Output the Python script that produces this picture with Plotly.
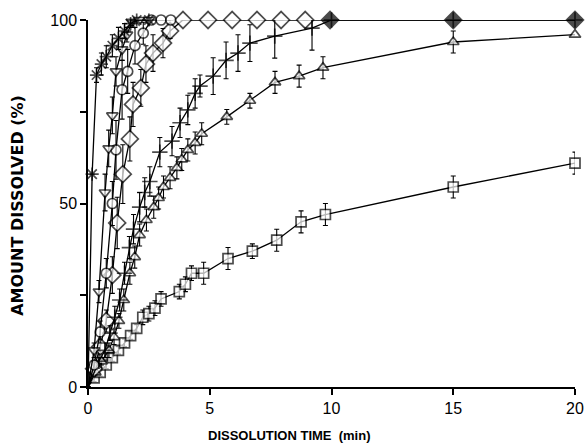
import plotly.graph_objects as go

# ---- data (time in min, amount dissolved in %) ----
star_t = [0, 0.17, 0.35, 0.55, 0.75, 1.0, 1.25, 1.5, 1.75, 2.0, 2.5]
star_y = [0, 58, 85, 88, 90, 93, 95, 97, 99, 100, 100]
star_e = [0, 0, 2, 3, 3, 3, 3, 2, 1, 0, 0]

tdn_t = [0, 0.25, 0.45, 0.7, 0.85, 1.0, 1.15, 1.4, 1.6, 1.8, 2.1, 2.5]
tdn_y = [0, 10, 26, 53, 65, 74, 86, 92, 96, 99.5, 100, 100]
tdn_e = [0, 2, 3, 5, 5, 5, 4, 3, 2, 1, 0, 0]

circ_t = [0, 0.25, 0.5, 0.75, 1.0, 1.15, 1.4, 1.63, 1.93, 2.27, 2.6, 3.0, 3.4]
circ_y = [0, 6, 15, 31, 50, 64.6, 81, 86, 93, 96.4, 100, 100, 100]
circ_e = [0, 1, 3, 4, 6, 8, 8, 6, 5, 3, 0, 0, 0]

diam_t = [0, 0.25, 0.5, 0.75, 1.0, 1.2, 1.43, 1.72, 1.85, 2.17, 2.38, 2.67, 3.08, 3.37,
          3.9, 4.93, 5.92, 6.94, 7.93, 8.92, 9.94, 15, 20]
diam_y = [0, 5, 11, 18, 30.5, 44.7, 58, 67.6, 77, 81.5, 88, 91, 93.7, 97,
          100, 100, 100, 100, 100, 100, 100, 100, 100]
diam_e = [0, 1, 2, 3, 5, 7, 8, 6, 6, 5, 5, 5, 4, 2,
          0, 0, 0, 0, 0, 0, 0, 0, 0]

crs_t = [0, 0.45, 0.7, 0.9, 1.1, 1.3, 1.5, 1.7, 1.87, 2.12, 2.33, 2.54, 2.95, 3.45,
         3.78, 4.1, 4.4, 4.6, 5.14, 5.67, 6.16, 6.65, 7.67, 9.2, 10, 15, 20]
crs_y = [0, 7, 10, 14.7, 19, 23.7, 31, 38, 43, 49, 53, 56, 64, 67,
         72, 75.5, 80, 82, 84.7, 89, 91, 93.7, 95.6, 97.8, 100, 100, 100]
crs_e = [0, 1, 2, 2, 3, 3, 3, 3, 4, 4, 4, 4, 4, 4,
         4, 4, 4, 3, 5, 5, 5, 5, 6, 6, 0, 0, 0]

tup_t = [0, 0.3, 0.55, 0.86, 1.07, 1.27, 1.47, 1.72, 1.92, 2.12, 2.4, 2.7, 2.9, 3.1,
         3.37, 3.65, 3.85, 4.1, 4.4, 4.67, 5.7, 6.65, 7.68, 8.67, 9.65, 15, 20]
tup_y = [0, 4, 7, 10, 13.6, 18, 23.7, 31, 35.4, 41.4, 45.5, 49, 51.5, 54.5,
         57, 59.7, 62, 64.6, 66.5, 69, 73.6, 78, 83, 84.7, 87, 94, 96]
tup_e = [0, 1, 1, 2, 2, 2, 3, 3, 3, 3, 3, 3, 3, 3,
         3, 3, 3, 3, 3, 3, 2, 2, 3, 3, 3, 3, 0]

sq_t = [0, 0.25, 0.5, 0.75, 1.0, 1.25, 1.5, 1.75, 2.0, 2.25, 2.5, 2.75, 3.0,
        3.75, 4.0, 4.25, 4.75, 5.75, 6.75, 7.75, 8.75, 9.75, 15, 20]
sq_y = [0, 2.5, 4, 6, 8, 10, 12, 14, 16, 19, 20, 21.5, 24,
        26, 28, 31, 31, 35, 37, 40, 45, 47, 54.5, 61]
sq_e = [0, 1, 1, 1, 1, 1, 1, 1, 1, 2, 2, 2, 2,
        2, 2, 2, 3, 3, 2, 3, 3, 3, 3, 3]

x_ticks = [0, 5, 10, 15, 20]
y_ticks = [0, 25, 50, 75, 100]
y_labels = ["0", "", "50", "", "100"]

def fills(t, special=()):
    return ["black" if v in special else "white" for v in t]

series = [
    (sq_t, sq_y, sq_e, "square", 10, "white"),
    (tup_t, tup_y, tup_e, "triangle-up", 10, "white"),
    (diam_t, diam_y, diam_e, "diamond", 13, fills(diam_t, (9.94, 15, 20))),
    (crs_t, crs_y, crs_e, "cross-thin", 11, "black"),
    (circ_t, circ_y, circ_e, "circle", 10, "white"),
    (tdn_t, tdn_y, tdn_e, "triangle-down", 10, "white"),
    (star_t, star_y, star_e, "asterisk", 11, "black"),
]

fig = go.Figure()
for t, y, e, sym, sz, fill in series:
    sizes = [0] + [sz] * (len(t) - 1)
    fig.add_trace(go.Scatter(
        x=t, y=y, mode="lines+markers", cliponaxis=False,
        line=dict(color="black", width=1.3),
        marker=dict(symbol=sym, size=sizes, color=fill,
                    line=dict(color="black", width=1.7)),
        error_y=dict(type="data", array=e, color="black", thickness=1.1, width=2.5),
        showlegend=False,
    ))

fig.update_layout(
    width=586, height=447,
    margin=dict(l=88, r=11, t=20, b=60, autoexpand=False),
    paper_bgcolor="white", plot_bgcolor="white",
    font=dict(family="Liberation Sans, Arial, sans-serif", color="black", size=16),
    xaxis=dict(range=[0, 20], tickvals=x_ticks, ticktext=[str(v) for v in x_ticks],
               automargin=False,
               showgrid=False, zeroline=False, showline=True, linecolor="black",
               linewidth=1.5, ticks="outside", ticklen=6, tickwidth=1.5,
               tickcolor="black", tickfont=dict(size=16)),
    yaxis=dict(range=[0, 100], tickvals=y_ticks, ticktext=y_labels,
               automargin=False,
               showgrid=False, zeroline=False, showline=True, linecolor="black",
               linewidth=1.5, ticks="outside", ticklen=6, tickwidth=1.5,
               tickcolor="black", tickfont=dict(size=16)),
    annotations=[
        dict(text="<b>DISSOLUTION TIME  (min)</b>", xref="paper", yref="paper",
             x=0.413, y=-0.131, xanchor="center", yanchor="middle", showarrow=False,
             font=dict(size=13)),
        dict(text="<b>AMOUNT DISSOLVED (%)</b>", xref="paper", yref="paper",
             x=-0.144, y=0.496, xanchor="center", yanchor="middle", showarrow=False,
             textangle=-90, font=dict(size=16, family="DejaVu Sans")),
    ],
)

fig.write_html("out.html", config={"displayModeBar": False},
               post_script="document.body.style.margin='0px';"
                           "document.body.style.overflow='hidden';")
